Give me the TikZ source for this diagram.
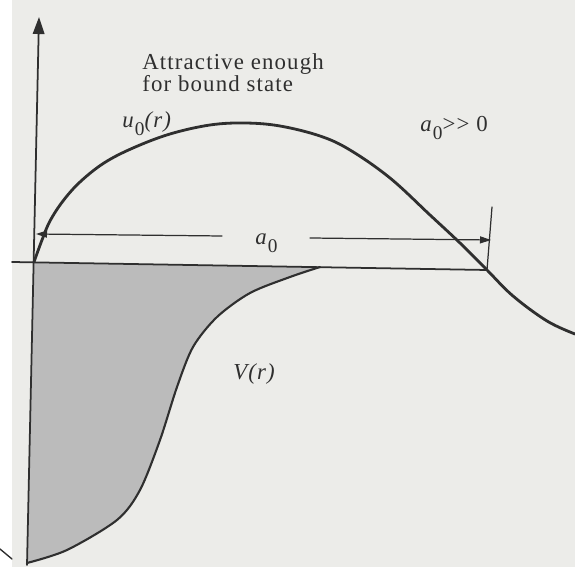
\documentclass[tikz,border=0pt]{standalone}
\usepackage{fontspec}
\setmainfont{Liberation Serif}[LetterSpace=5]
\usetikzlibrary{arrows.meta}
\definecolor{cpaper}{HTML}{ECECE9}
\definecolor{cink}{HTML}{2F2F2F}
\definecolor{cshade}{HTML}{BBBBBB}
\tikzset{
  every picture/.style={line join=round, line cap=round},
  curve/.style={draw=cink, line width=1.6pt},
  axis/.style={draw=cink, line width=1pt},
  dim/.style={draw=cink, line width=0.7pt, -{Triangle[length=2.2mm, width=1.4mm]}},
  lbl/.style={text=cink, font=\fontsize{13}{12.5}\selectfont, inner sep=0pt},
}
\newcommand{\lowsub}[2]{\textit{#1}\raisebox{-0.75ex}{\fontsize{11}{11}\selectfont #2}}

\begin{document}
\begin{tikzpicture}[x=0.02cm, y=-0.02cm]
  \useasboundingbox (0,0) rectangle (575,567);
  % paper and the scan's edge
  \fill[cpaper] (12,0) rectangle (575,567);
  \draw[cink, line width=0.8pt] (0,549) -- (12,559);
  % the attractive well V(r)
  \fill[cshade] (34,262) -- plot[smooth] coordinates {(320,267) (290,277) (250,293) (217,317) (193,347) (177,387) (160,440) (140,490) (117,520) (67,550) (27,563)} -- cycle;
  \draw[cink, line width=1.2pt] plot[smooth] coordinates {(320,267) (290,277) (250,293) (217,317) (193,347) (177,387) (160,440) (140,490) (117,520) (67,550) (27,563)};
  % axes
  \coordinate (O) at (34,262);
  \coordinate (rend) at (487,270);
  \coordinate (ybot) at (27,565);
  \coordinate (ytop) at (39,17);
  \draw[axis] (12,262) -- (rend);
  \draw[axis, -{Triangle[length=3.4mm, width=2.3mm]}] (ybot) -- (ytop);
  % the wave function u0(r)
  \draw[curve] plot[smooth, tension=0.6] coordinates {(34,262) (42,240) (50,221) (63,201) (80,182) (104,163) (133,148) (170,134) (210,125) (245,123) (280,126) (320,136) (350,150) (390,178) (430,215) (460,243) (487,270) (513,296) (547,321) (575,334)};
  % labels
  \node[lbl, anchor=north west, align=left] (attract) at (142,53) {Attractive enough\\for bound state};
  \node[lbl, anchor=base west] (uzero) at (122,128) {\lowsub{u}{0}\textit{(r)}};
  \node[lbl, anchor=base west] (agt) at (420,132) {\lowsub{a}{0}{>}{>}\ 0};
  \node[lbl, anchor=base west] (azero) at (255,245) {\lowsub{a}{0}};
  \node[lbl, anchor=base west] (pot) at (233,380) {\textit{V(r)}};
  % the length a0
  \coordinate (dl) at (36,234);
  \coordinate (dr) at (491,240);
  \coordinate (tick) at (492,207);
  \draw[dim] (azero.west |- 0,236) ++(-33,0) -- (dl);
  \draw[dim] (azero.east |- 0,238) ++(32,0) -- (dr);
  \draw[axis, line width=0.7pt] (tick) -- (rend);
\end{tikzpicture}
\end{document}
